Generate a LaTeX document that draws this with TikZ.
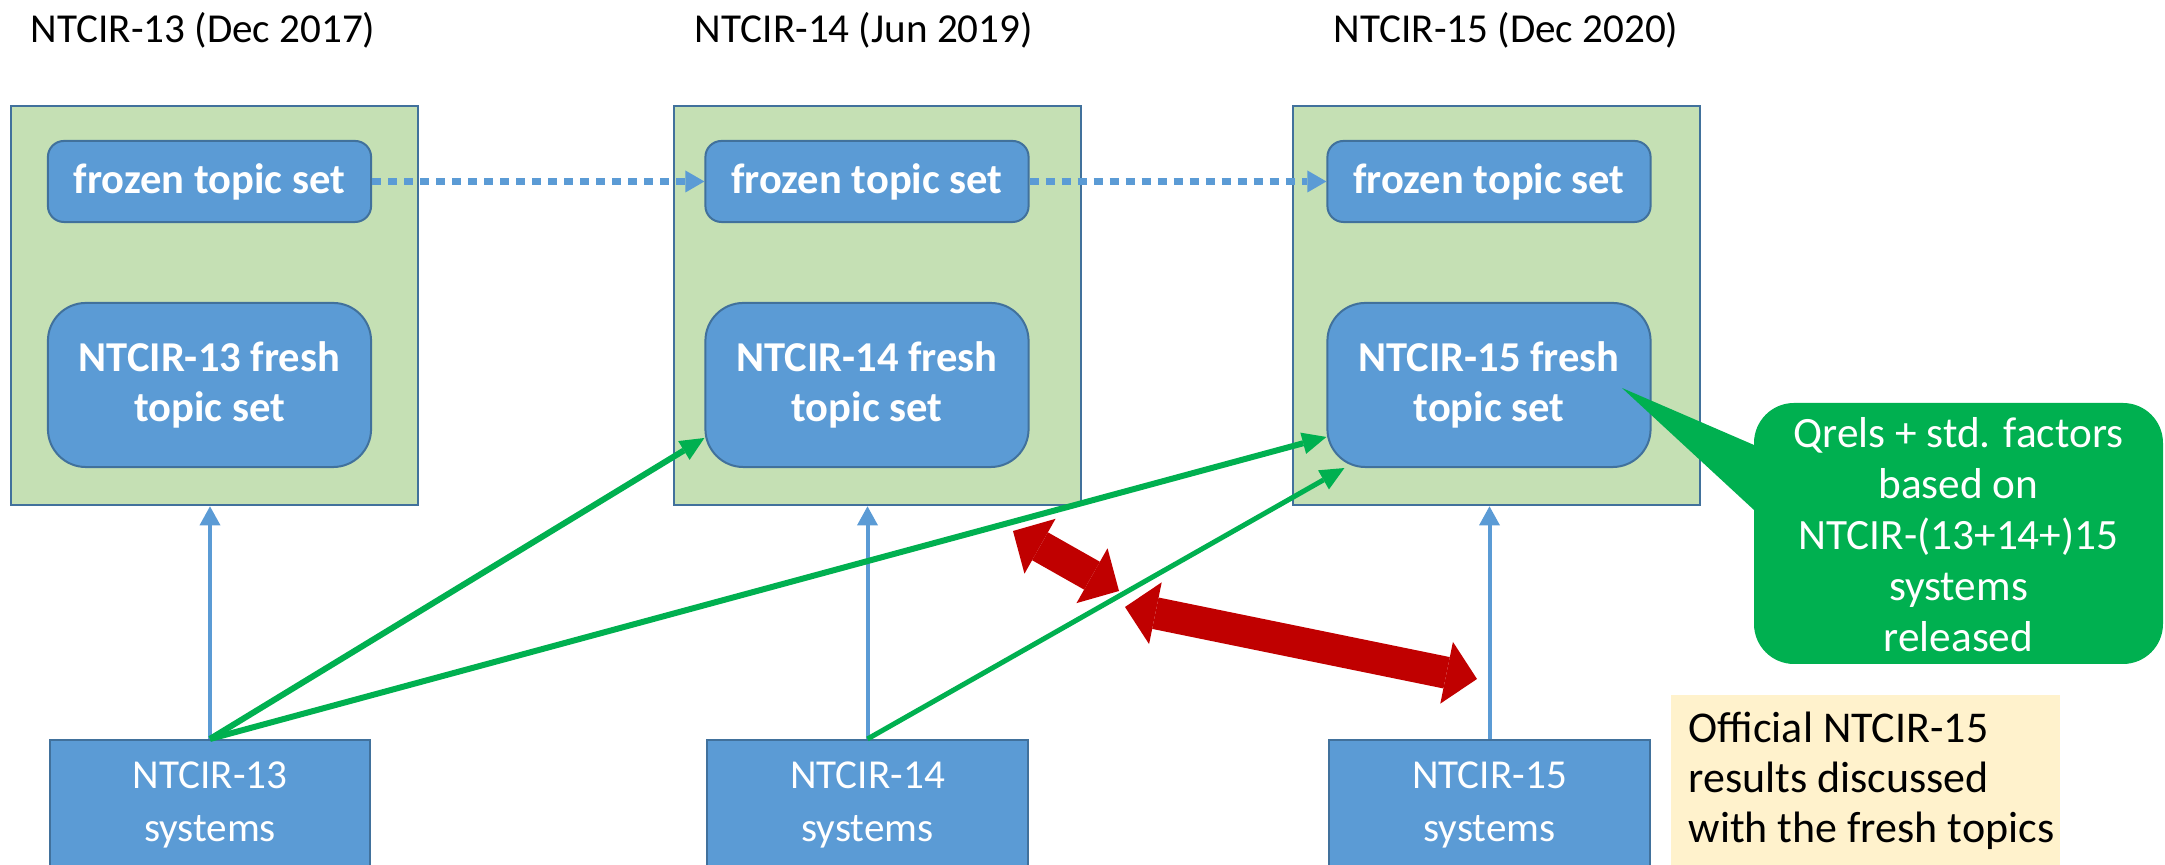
\documentclass[tikz,border=0pt]{standalone}
\usepackage{fontspec}
\setmainfont{Carlito}
\usetikzlibrary{arrows.meta,calc}
\definecolor{gbox}{HTML}{C5E0B4}
\definecolor{bfill}{HTML}{5B9BD5}
\definecolor{bline}{HTML}{41719C}
\definecolor{gcall}{HTML}{00B050}
\definecolor{darkred}{HTML}{C00000}
\definecolor{notey}{HTML}{FFF2CC}
\begin{document}
\begin{tikzpicture}[x=0.01cm,y=-0.01cm,
 font=\fontsize{11.7pt}{14.2pt}\selectfont,
 phase/.style={draw=bline, line width=0.025cm, fill=gbox, minimum width=4.07cm, minimum height=3.99cm, inner sep=0},
 frozen/.style={draw=bline, line width=0.02cm, fill=bfill, rounded corners=0.16cm, minimum width=3.23cm, minimum height=0.81cm, inner sep=0, text=white, font=\fontsize{12.1pt}{14.2pt}\selectfont\bfseries},
 fresh/.style={frozen, rounded corners=0.38cm, minimum height=1.64cm, align=center},
 sysbox/.style={draw=bline, line width=0.02cm, fill=bfill, minimum width=3.2cm, minimum height=1.3cm, inner sep=0, text=white, align=center},
 title/.style={inner sep=0, text=black},
 bluearrow/.style={draw=bfill, line width=0.04cm, -{Triangle[length=0.19cm,width=0.21cm,line width=0pt]}},
 greenarrow/.style={draw=gcall, line width=0.06cm, -{Triangle[length=0.24cm,width=0.22cm,line width=0pt]}},
 dotarrow/.style={draw=bfill, line width=0.07cm, dash pattern=on 0.09cm off 0.07cm, -{Triangle[length=0.19cm,width=0.22cm,line width=0pt]}},
 redarrow/.style={draw=darkred, line width=0.32cm, {Triangle[length=0.31cm,width=0.63cm,line width=0pt]}-{Triangle[length=0.31cm,width=0.63cm,line width=0pt]}},
]
\useasboundingbox (0,0) rectangle (2165,865);

% titles
\node[title] (t13) at (203,30) {NTCIR-13 (Dec 2017)};
\node[title] (t14) at (864,30) {NTCIR-14 (Jun 2019)};
\node[title] (t15) at (1506,30) {NTCIR-15 (Dec 2020)};

% phase boxes
\node[phase] (G1) at (214.5,305.5) {};
\node[phase] (G2) at (877.5,305.5) {};
\node[phase] (G3) at (1496.5,305.5) {};

% frozen topic sets
\node[frozen] (F1) at (209.5,181.5) {frozen topic set};
\node[frozen] (F2) at (867,181.5) {frozen topic set};
\node[frozen] (F3) at (1489,181.5) {frozen topic set};

% fresh topic sets
\node[fresh] (R1) at (209.5,385) {NTCIR-13 fresh\\topic set};
\node[fresh] (R2) at (867,385) {NTCIR-14 fresh\\topic set};
\node[fresh] (R3) at (1489,385) {NTCIR-15 fresh\\topic set};

% systems
\node[sysbox] (S1) at (210,805) {NTCIR-13\\[1pt]systems};
\node[sysbox] (S2) at (867.5,805) {NTCIR-14\\[1pt]systems};
\node[sysbox] (S3) at (1489.5,805) {NTCIR-15\\[1pt]systems};

% note
\node[fill=notey, minimum width=3.89cm, minimum height=1.8cm, inner sep=0, anchor=north west] (note) at (1670,694) {};
\node[anchor=west, align=left, inner sep=0, font=\fontsize{12.5pt}{14.2pt}\selectfont] (notetext) at (1688,781) {Official NTCIR-15\\results discussed\\with the fresh topics};

% callout
\fill[gcall, rounded corners=0.4cm] (1754,403) rectangle (2163,664);
\coordinate (calltip) at (1622,388);
\fill[gcall] (calltip) -- (1754,445) -- (1754,510) -- cycle;
\node[text=white, align=center, inner sep=0, font=\fontsize{12.3pt}{14.5pt}\selectfont] (call) at (1958.5,535) {Qrels + std. factors\\based on\\NTCIR-(13+14+)15\\systems\\released};

% connectors
\draw[dotarrow] (F1.east) -- (F2.west);
\draw[dotarrow] (F2.east) -- (F3.west);
\draw[bluearrow] (S1.north) -- (S1.north |- G1.south);
\draw[bluearrow] (S2.north) -- (S2.north |- G2.south);
\draw[bluearrow] (S3.north) -- (S3.north |- G3.south);
\draw[greenarrow] (S1.north) -- ($(R2.west)+(0,53)$);
\draw[greenarrow] (S1.north) -- ($(R3.west)+(0,52)$);
\draw[greenarrow, line width=0.05cm] (S2.north) -- ($(R3.south west)+(18,0)$);

% red double arrows
\coordinate (ra1) at (1013,531);
\coordinate (ra2) at (1119,591);
\coordinate (rb1) at (1125,607);
\coordinate (rb2) at (1477,679);
\draw[redarrow] (ra1) -- (ra2);
\draw[redarrow] (rb1) -- (rb2);
\end{tikzpicture}
\end{document}
